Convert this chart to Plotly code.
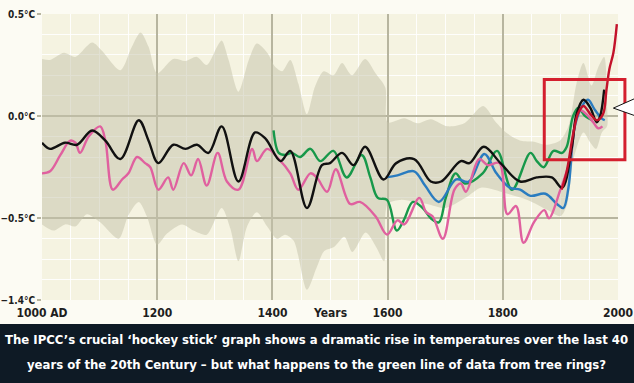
import plotly.graph_objects as go

# ---------------- data ----------------
years_black = [1000,1014,1040,1061,1087,1110,1136,1168,1185,1202,1228,1249,1269,1289,1312,1341,1370,1388,1414,1431,1460,1486,1500,1521,1541,1561,1593,1615,1646,1675,1693,1727,1742,1767,1796,1830,1859,1885,1903,1920,1928,1940,1952,1963,1969,1976]
temps_black = [-0.13,-0.16,-0.13,-0.14,-0.07,-0.12,-0.21,-0.02,-0.12,-0.23,-0.14,-0.16,-0.14,-0.18,-0.05,-0.32,-0.08,-0.11,-0.22,-0.17,-0.45,-0.24,-0.23,-0.18,-0.24,-0.15,-0.31,-0.23,-0.21,-0.32,-0.32,-0.22,-0.23,-0.15,-0.23,-0.32,-0.30,-0.30,-0.35,-0.15,0.01,0.08,0.04,-0.03,0.00,0.13]

years_pink = [1000,1014,1032,1049,1058,1066,1081,1101,1110,1123,1139,1150,1165,1179,1188,1202,1219,1228,1246,1259,1271,1286,1305,1321,1341,1365,1373,1391,1411,1431,1445,1466,1477,1495,1510,1535,1552,1579,1599,1617,1629,1655,1667,1678,1696,1716,1727,1736,1759,1774,1794,1808,1823,1836,1854,1872,1880,1900,1916,1928,1934,1945,1957,1966,1973]
temps_pink = [-0.28,-0.27,-0.19,-0.12,-0.13,-0.18,-0.10,-0.05,-0.12,-0.36,-0.31,-0.28,-0.20,-0.23,-0.25,-0.36,-0.30,-0.36,-0.23,-0.29,-0.21,-0.34,-0.18,-0.32,-0.36,-0.16,-0.22,-0.16,-0.21,-0.28,-0.36,-0.28,-0.30,-0.37,-0.26,-0.43,-0.42,-0.49,-0.58,-0.51,-0.53,-0.40,-0.47,-0.49,-0.60,-0.36,-0.33,-0.37,-0.21,-0.24,-0.23,-0.48,-0.44,-0.62,-0.52,-0.46,-0.50,-0.36,-0.22,0.00,0.03,0.01,-0.03,-0.06,-0.05]

years_green = [1402,1411,1422,1434,1448,1466,1483,1506,1529,1555,1570,1583,1599,1616,1628,1644,1661,1675,1689,1701,1718,1734,1765,1790,1816,1848,1859,1871,1888,1903,1911,1922,1931,1943,1955]
temps_green = [-0.07,-0.18,-0.19,-0.18,-0.20,-0.16,-0.22,-0.17,-0.30,-0.19,-0.30,-0.40,-0.41,-0.56,-0.51,-0.42,-0.45,-0.50,-0.52,-0.40,-0.28,-0.33,-0.28,-0.17,-0.36,-0.18,-0.22,-0.25,-0.17,-0.18,-0.15,0.00,0.04,0.00,-0.02]

years_blue = [1597,1617,1646,1665,1689,1719,1741,1768,1789,1812,1830,1848,1874,1894,1905,1914,1925,1940,1948,1960,1971,1977]
temps_blue = [-0.30,-0.29,-0.27,-0.34,-0.42,-0.31,-0.32,-0.185,-0.28,-0.35,-0.36,-0.39,-0.38,-0.43,-0.45,-0.35,-0.05,0.06,0.08,0.03,-0.01,-0.02]

years_red = [1902,1911,1922,1931,1940,1952,1963,1974,1980,1985,1992,1998]
temps_red = [-0.36,-0.27,-0.09,0.015,0.05,0.01,-0.02,0.01,0.13,0.23,0.31,0.45]

years_band_up = [1000,1014,1038,1058,1087,1104,1136,1156,1171,1185,1200,1228,1249,1269,1286,1304,1312,1324,1341,1359,1373,1391,1405,1417,1431,1445,1460,1474,1489,1506,1521,1538,1561,1579,1596,1600,1629,1652,1675,1704,1733,1766,1788,1808,1831,1854,1875,1899,1914,1928,1940,1954,1965,1976,1981]
temps_band_up = [0.28,0.275,0.31,0.29,0.36,0.32,0.225,0.34,0.41,0.34,0.21,0.28,0.27,0.29,0.25,0.34,0.37,0.275,0.12,0.275,0.355,0.31,0.24,0.22,0.275,0.16,0.01,0.145,0.22,0.20,0.26,0.20,0.28,0.21,0.14,-0.03,-0.01,-0.035,-0.015,-0.05,-0.035,0.05,-0.03,-0.085,-0.12,-0.125,-0.14,-0.12,-0.05,0.16,0.26,0.15,0.235,0.29,0.05]

years_band_lo = [1000,1020,1040,1058,1078,1101,1133,1150,1168,1182,1200,1217,1243,1263,1286,1312,1327,1341,1356,1373,1391,1408,1422,1437,1460,1477,1490,1507,1525,1539,1562,1580,1594,1600,1623,1646,1669,1700,1735,1762,1785,1808,1843,1878,1900,1912,1922,1940,1952,1962,1972,1981]
temps_band_lo = [-0.53,-0.56,-0.53,-0.54,-0.48,-0.52,-0.60,-0.485,-0.42,-0.49,-0.63,-0.575,-0.53,-0.56,-0.58,-0.45,-0.55,-0.71,-0.54,-0.47,-0.54,-0.60,-0.58,-0.61,-0.85,-0.74,-0.66,-0.64,-0.59,-0.665,-0.57,-0.64,-0.71,-0.43,-0.41,-0.42,-0.43,-0.45,-0.40,-0.35,-0.36,-0.38,-0.41,-0.46,-0.49,-0.43,-0.22,-0.08,-0.13,-0.16,-0.08,-0.05]

x_tickvals = [1000, 1200, 1400, 1600, 1800, 2000]
x_ticktext = ["1000 AD", "1200", "1400", "1600", "1800", "2000"]
y_tickvals = [0.5, 0.0, -0.5, -0.9]
y_ticktext = ["0.5°C", "0.0°C", "−0.5°C", "−1.4°C"]
y_minor = [0.4, 0.3, 0.2, 0.1, -0.1, -0.2, -0.3, -0.4, -0.6, -0.7, -0.8]

caption_lines = [
    "The IPCC’s crucial ‘hockey stick’ graph shows a dramatic rise in temperatures over the last 40",
    "years of the 20th Century – but what happens to the green line of data from tree rings?",
]

# ---------------- figure ----------------
FONT = "DejaVu Sans Condensed, Liberation Sans Narrow, Roboto, sans-serif"
fig = go.Figure()

band_x = years_band_up + years_band_lo[::-1]
band_y = temps_band_up + temps_band_lo[::-1]
fig.add_trace(go.Scatter(x=band_x, y=band_y, fill="toself", mode="lines",
                         line=dict(width=0, shape="spline", smoothing=0.8),
                         fillcolor="rgba(198,196,170,0.52)", hoverinfo="skip"))

series = [
    (years_green, temps_green, "#17984a"),
    (years_blue, temps_blue, "#2a7cc0"),
    (years_pink, temps_pink, "#e0609f"),
    (years_black, temps_black, "#111111"),
    (years_red, temps_red, "#c3122b"),
]
for xs, ys, col in series:
    fig.add_trace(go.Scatter(x=xs, y=ys, mode="lines",
                             line=dict(color=col, width=2.4, shape="spline", smoothing=1.0)))

grid_col = "#b7b59f"
fig.update_xaxes(range=[1000, 2000], tickvals=x_tickvals, ticktext=x_ticktext,
                 showgrid=True, gridcolor=grid_col, gridwidth=2, zeroline=False,
                 ticks="", showline=False, automargin=False, ticklabelstandoff=4,
                 minor=dict(dtick=50, tick0=1000, showgrid=True, gridcolor="rgba(255,255,255,0.9)", gridwidth=1),
                 tickfont=dict(family=FONT, size=12, color="#1e1e1e", weight="bold"))
fig.update_yaxes(range=[-0.9, 0.5], tickvals=y_tickvals, ticktext=y_ticktext,
                 showgrid=True, gridcolor=grid_col, gridwidth=2, zeroline=False,
                 ticks="outside", ticklen=4, tickwidth=2, tickcolor=grid_col, showline=False,
                 automargin=False, ticklabelstandoff=0,
                 minor=dict(tickvals=y_minor, showgrid=True, gridcolor="rgba(255,255,255,0.9)", gridwidth=1),
                 tickfont=dict(family=FONT, size=10, color="#1e1e1e", weight="bold"))

caption_ann = [
    dict(text=t, xref="paper", yref="paper", x=0.4774, y=yy, showarrow=False,
         xanchor="center", yanchor="middle",
         font=dict(family=FONT, size=13, color="white", weight="bold"))
    for t, yy in zip(caption_lines, [-0.139, -0.227])
]

fig.update_layout(
    width=634, height=383,
    margin=dict(l=42, r=16, t=14, b=83, autoexpand=False),
    paper_bgcolor="#fcfbf3", plot_bgcolor="#f5f3e1",
    showlegend=False,
    shapes=[
        # red highlight box
        dict(type="rect", xref="paper", yref="paper", x0=0.872, x1=1.012, y0=0.49, y1=0.771,
             line=dict(color="#d41f2e", width=3), fillcolor="rgba(0,0,0,0)"),
        # callout pointer
        dict(type="path", xref="paper", yref="paper",
             path="M 1.03,0.705 L 0.992,0.671 L 1.03,0.644 Z",
             fillcolor="white", line=dict(color="#111", width=1)),
        # caption box
        dict(type="rect", xref="paper", yref="paper", x0=-0.08, x1=1.04, y0=-0.30, y1=-0.084,
             fillcolor="#0e1a25", line=dict(width=0), layer="above"),
    ],
    annotations=[
        dict(text="Years", xref="x", yref="paper", x=1500, y=-0.045, showarrow=False,
             yanchor="middle", font=dict(family=FONT, size=12, color="#1e1e1e", weight="bold")),
    ] + caption_ann,
)

fig.write_html("out.html", config={"displayModeBar": False},
               post_script="document.body.style.margin='0';")
